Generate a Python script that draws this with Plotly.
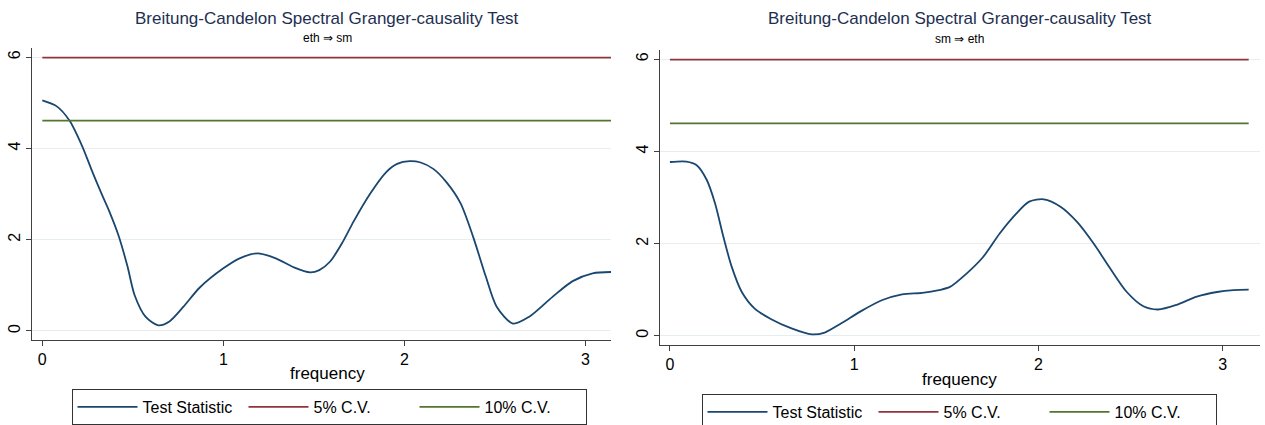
import math
import plotly.graph_objects as go

# ---------------- data ----------------
left_freq = [0, 0.08, 0.15, 0.22, 0.28, 0.33, 0.37, 0.42, 0.47, 0.51, 0.57, 0.64, 0.70,
             0.78, 0.87, 1.0, 1.09, 1.19, 1.29, 1.39, 1.48, 1.53, 1.59, 1.66, 1.72, 1.81,
             1.90, 1.96, 2.03, 2.09, 2.16, 2.23, 2.31, 2.38, 2.45, 2.51, 2.60, 2.69, 2.82,
             2.93, 3.04, 3.14159]
left_val = [5.05, 4.92, 4.61, 4.05, 3.45, 2.98, 2.62, 2.10, 1.42, 0.78, 0.31, 0.12, 0.20,
            0.53, 0.95, 1.37, 1.59, 1.70, 1.59, 1.39, 1.28, 1.33, 1.52, 1.95, 2.40, 3.00,
            3.48, 3.66, 3.72, 3.69, 3.55, 3.27, 2.80, 2.06, 1.19, 0.53, 0.16, 0.31, 0.75,
            1.09, 1.26, 1.29]

right_freq = [0, 0.09, 0.145, 0.20, 0.245, 0.29, 0.335, 0.39, 0.46, 0.55, 0.66, 0.77, 0.84,
              0.93, 1.04, 1.15, 1.26, 1.37, 1.46, 1.52, 1.61, 1.70, 1.79, 1.88, 1.95, 2.03,
              2.12, 2.21, 2.30, 2.39, 2.48, 2.57, 2.65, 2.75, 2.86, 2.97, 3.06, 3.14159]
right_val = [3.77, 3.78, 3.70, 3.38, 2.87, 2.15, 1.50, 0.95, 0.59, 0.36, 0.16, 0.03, 0.07,
             0.27, 0.54, 0.77, 0.90, 0.93, 0.99, 1.06, 1.35, 1.71, 2.22, 2.65, 2.91, 2.96,
             2.80, 2.47, 2.00, 1.46, 0.95, 0.64, 0.57, 0.67, 0.85, 0.95, 0.99, 1.00]

cv5 = 5.99
cv10 = 4.61
freq_span = [0, math.pi]

titles = ["Breitung-Candelon Spectral Granger-causality Test",
          "Breitung-Candelon Spectral Granger-causality Test"]
subtitles = ["eth \u21d2 sm", "sm \u21d2 eth"]
legend_names = ["Test Statistic", "5% C.V.", "10% C.V."]
x_ticks = [0, 1, 2, 3]
y_ticks = [0, 2, 4, 6]

# ---------------- style ----------------
W, H = 1265, 425
FONT = "Liberation Sans, Arial, sans-serif"
NAVY = "#1a476f"
MAROON = "#90353b"
GREEN = "#55752f"
GRID = "#e6eef0"
AXIS = "#404040"
TITLE_C = "#1e2f52"

fig = go.Figure()

panels = [
    dict(freq=left_freq, val=left_val, xa="x", ya="y", legend="legend"),
    dict(freq=right_freq, val=right_val, xa="x2", ya="y2", legend="legend2"),
]
for p in panels:
    fig.add_trace(go.Scatter(x=p["freq"], y=p["val"], mode="lines", name=legend_names[0],
                             line=dict(color=NAVY, width=1.8, shape="spline", smoothing=0.8),
                             xaxis=p["xa"], yaxis=p["ya"], legend=p["legend"]))
    fig.add_trace(go.Scatter(x=freq_span, y=[cv5, cv5], mode="lines", name=legend_names[1],
                             line=dict(color=MAROON, width=1.8),
                             xaxis=p["xa"], yaxis=p["ya"], legend=p["legend"]))
    fig.add_trace(go.Scatter(x=freq_span, y=[cv10, cv10], mode="lines", name=legend_names[2],
                             line=dict(color=GREEN, width=1.8),
                             xaxis=p["xa"], yaxis=p["ya"], legend=p["legend"]))

def px_x(v):
    return v / W

def px_y(v):
    return (H - v) / H

axis_common = dict(showline=True, linecolor=AXIS, linewidth=1, ticks="outside", ticklen=5,
                   tickcolor=AXIS, tickfont=dict(family=FONT, size=16, color="#000"),
                   zeroline=False, mirror=False)

legend_common = dict(orientation="h", xanchor="center", yanchor="top",
                     bordercolor="#333", borderwidth=1, bgcolor="white",
                     font=dict(family=FONT, size=16, color="#000"),
                     entrywidth=96, itemwidth=60, tracegroupgap=0)

fig.update_layout(
    width=W, height=H, margin=dict(l=0, r=0, t=0, b=0, autoexpand=False),
    paper_bgcolor="white", plot_bgcolor="white",
    font=dict(family=FONT, color="#000"),
    xaxis=dict(domain=[px_x(32), px_x(611)], range=[-0.057, math.pi], tickvals=x_ticks,
               showgrid=False, anchor="y", **axis_common),
    yaxis=dict(domain=[px_y(339.5), px_y(48)], range=[-0.19, 6.2], tickvals=y_ticks,
               showgrid=True, gridcolor=GRID, gridwidth=1, tickangle=-90, anchor="x",
               **axis_common),
    xaxis2=dict(domain=[px_x(660), px_x(1260)], range=[-0.054, 3.203], tickvals=x_ticks,
                showgrid=False, anchor="y2", **axis_common),
    yaxis2=dict(domain=[px_y(345), px_y(50)], range=[-0.2, 6.2], tickvals=y_ticks,
                showgrid=True, gridcolor=GRID, gridwidth=1, tickangle=-90, anchor="x2",
                **axis_common),
    legend=dict(x=px_x(329), y=px_y(389), **legend_common),
    legend2=dict(x=px_x(959), y=px_y(394), **legend_common),
)

ann = []
centers = [327, 960]
title_y = [18, 18]
sub_y = [38, 39]
xlab_y = [373, 379]
for i in range(2):
    ann.append(dict(text=titles[i], x=px_x(centers[i]), y=px_y(title_y[i]),
                    xref="paper", yref="paper", showarrow=False,
                    xanchor="center", yanchor="middle",
                    font=dict(family=FONT, size=17, color=TITLE_C)))
    ann.append(dict(text=subtitles[i], x=px_x(centers[i]), y=px_y(sub_y[i]),
                    xref="paper", yref="paper", showarrow=False,
                    xanchor="center", yanchor="middle",
                    font=dict(family=FONT, size=12, color="#000")))
    ann.append(dict(text="frequency", x=px_x(centers[i]), y=px_y(xlab_y[i]),
                    xref="paper", yref="paper", showarrow=False,
                    xanchor="center", yanchor="middle",
                    font=dict(family=FONT, size=17, color="#000")))
fig.update_layout(annotations=ann)

fig.write_html("out.html")
